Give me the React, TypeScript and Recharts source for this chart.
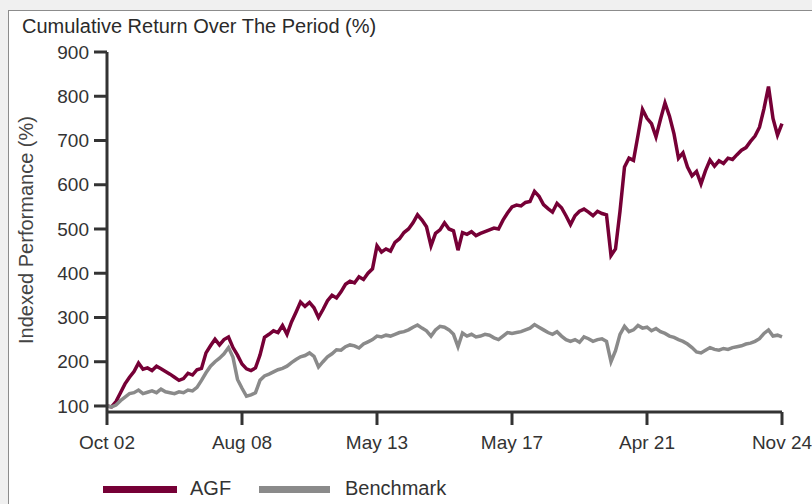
import React from 'react';
import { LineChart, Line, XAxis, YAxis } from 'recharts';

const xLabels = ['Oct 02', 'Aug 08', 'May 13', 'May 17', 'Apr 21', 'Nov 24'];
const xTickIdx = [0, 30, 60, 90, 120, 150];
const yTicks = [100, 200, 300, 400, 500, 600, 700, 800, 900];

const agf = [
  100, 98, 110, 130, 150, 165, 178, 197, 183, 186,
  180, 190, 184, 178, 172, 165, 158, 162, 174, 170,
  182, 185, 220, 236, 251, 238, 250, 256, 232, 215,
  195, 184, 180, 186, 215, 255, 262, 270, 266, 282,
  262, 290, 312, 335, 325, 334, 322, 300, 318, 338,
  350, 344, 358, 375, 382, 378, 392, 386, 400, 410,
  462, 448, 455, 450, 470, 478, 492, 500, 514, 532,
  520, 505, 462, 490, 498, 514, 500, 496, 452, 492,
  488, 494, 485, 490, 494, 498, 502, 500, 520, 536,
  550, 554, 552, 560, 562, 585, 574, 555, 546, 538,
  558, 548, 530, 510, 530, 540, 545, 538, 530, 540,
  535, 532, 440, 455, 540, 640, 660, 655, 712, 770,
  750, 738, 708, 748, 785, 755, 715, 660, 672, 640,
  620, 630, 602, 632, 656, 642, 654, 648, 660, 657,
  668, 678, 684, 698, 710, 730, 772, 822, 750, 712,
  738,
];

const benchmark = [
  100, 98, 102, 112, 120, 128, 130, 136, 128, 131,
  134, 130, 138, 132, 130, 128, 132, 130, 136, 134,
  142, 158, 175, 190, 200, 208, 218, 232, 210, 160,
  140, 122, 125, 130, 158, 168, 172, 177, 182, 185,
  190, 198, 205, 211, 214, 220, 212, 188, 200, 211,
  218, 227, 226, 234, 238, 236, 231, 240, 245, 250,
  258, 256, 260, 258, 262, 266, 268, 272, 278, 283,
  276, 270, 258, 272, 280, 278, 272, 262, 234, 265,
  258, 262, 256, 258, 262, 260, 254, 250, 258, 266,
  264, 266, 268, 272, 276, 284, 278, 272, 266, 262,
  268, 258, 250, 246, 250, 244, 256, 252, 246, 250,
  252, 246, 200, 225, 262, 280, 268, 272, 282, 276,
  278, 270, 275, 268, 264, 258, 255, 250, 246, 240,
  232, 222, 220, 226, 232, 228, 226, 230, 228, 232,
  234, 236, 240, 242, 246, 252, 264, 272, 258, 260,
  256,
];

const data = agf.map((v, i) => ({ i, agf: v, benchmark: benchmark[i] }));

const FONT = '"Liberation Sans", Arial, sans-serif';
const AGF_COLOR = '#760036';
const BM_COLOR = '#8a8a8a';
const AXIS_COLOR = '#333333';

export default function App() {
  return (
    <div style={{ position: 'absolute', left: 0, top: 0, width: 812, height: 504, background: '#f0f0f0', overflow: 'hidden', fontFamily: FONT }}>
      <div style={{ position: 'absolute', left: 8, top: 10, width: 830, height: 520, background: '#ffffff', border: '1px solid #8c8c8c' }} />
      <div style={{ position: 'absolute', left: 22, top: 16, fontSize: 20, lineHeight: '20px', color: '#2a2a2a', whiteSpace: 'nowrap' }}>
        Cumulative Return Over The Period (%)
      </div>
      <div style={{ position: 'absolute', left: 26 - 150, top: 230 - 11, width: 300, height: 22, lineHeight: '22px', fontSize: 20, color: '#444', textAlign: 'center', transform: 'rotate(-90deg)', whiteSpace: 'nowrap' }}>
        Indexed Performance (%)
      </div>
      <div style={{ position: 'absolute', left: 0, top: 0 }}>
        <LineChart width={812} height={504} data={data} margin={{ top: 52, right: 30, bottom: 32, left: 0 }}>
          <XAxis
            dataKey="i"
            type="number"
            domain={[0, 150]}
            ticks={xTickIdx}
            tickFormatter={(v: number) => xLabels[xTickIdx.indexOf(v)]}
            height={60}
            tickSize={13}
            tickMargin={11}
            axisLine={{ stroke: AXIS_COLOR, strokeWidth: 3 }}
            tickLine={{ stroke: AXIS_COLOR, strokeWidth: 3 }}
            tick={{ fill: '#333', fontSize: 19, fontFamily: FONT }}
            interval={0}
          />
          <YAxis
            type="number"
            domain={[86.4, 900]}
            ticks={yTicks}
            width={107}
            tickSize={13}
            tickMargin={5}
            axisLine={{ stroke: AXIS_COLOR, strokeWidth: 3 }}
            tickLine={{ stroke: AXIS_COLOR, strokeWidth: 3 }}
            tick={{ fill: '#333', fontSize: 19, fontFamily: FONT }}
            interval={0}
            allowDataOverflow
          />
          <Line type="linear" dataKey="agf" stroke={AGF_COLOR} strokeWidth={3.5} dot={false} isAnimationActive={false} />
          <Line type="linear" dataKey="benchmark" stroke={BM_COLOR} strokeWidth={3.5} dot={false} isAnimationActive={false} />
        </LineChart>
      </div>
      <div style={{ position: 'absolute', left: 103, top: 486, width: 74, height: 7, background: AGF_COLOR }} />
      <div style={{ position: 'absolute', left: 190, top: 478, fontSize: 20, lineHeight: '20px', color: '#333' }}>AGF</div>
      <div style={{ position: 'absolute', left: 259, top: 486, width: 71, height: 7, background: BM_COLOR }} />
      <div style={{ position: 'absolute', left: 345, top: 478, fontSize: 20, lineHeight: '20px', color: '#333' }}>Benchmark</div>
    </div>
  );
}
